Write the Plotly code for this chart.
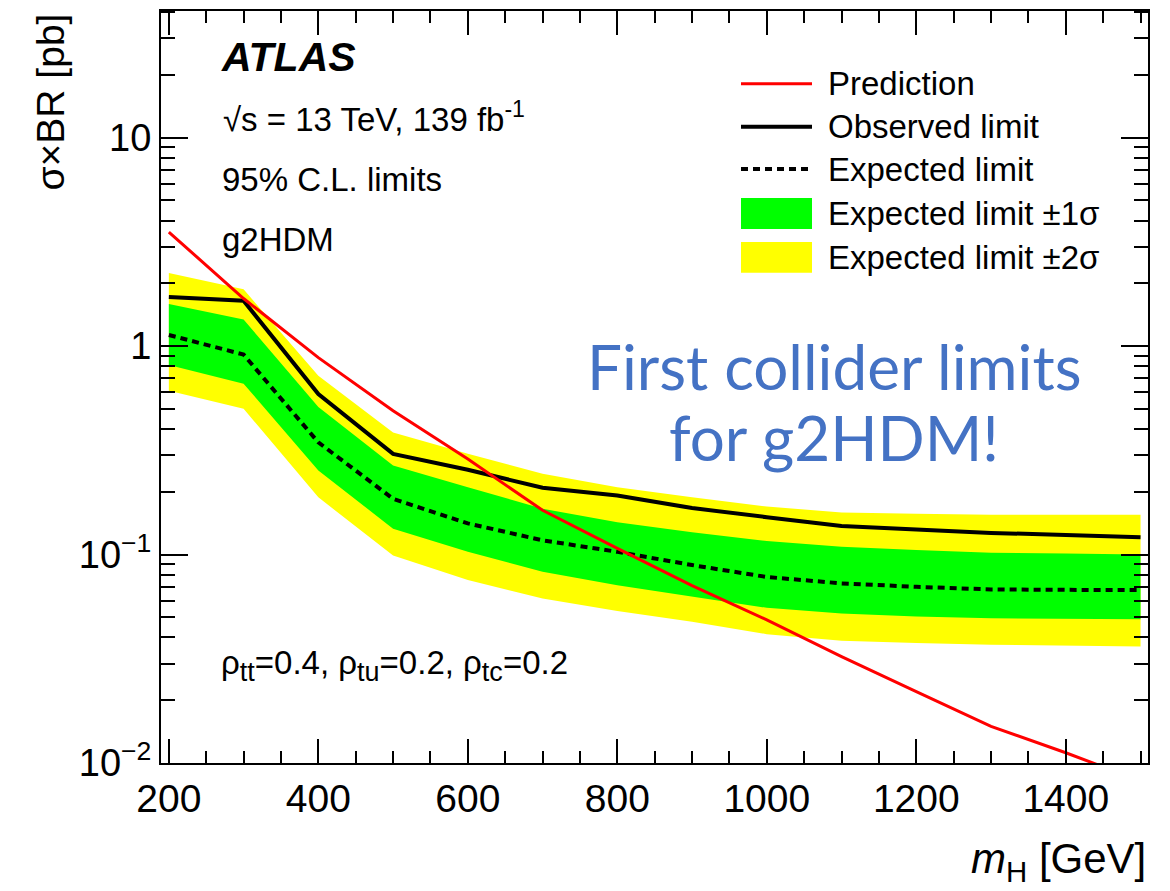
import plotly.graph_objects as go

# ---------------- data ----------------
mass = [200, 300, 400, 500, 600, 700, 800, 900, 1000, 1100, 1200, 1300, 1400, 1500]
observed = [1.72, 1.65, 0.588, 0.304, 0.255, 0.209, 0.192, 0.167, 0.151, 0.137, 0.132, 0.127, 0.124, 0.121]
expected = [1.13, 0.91, 0.345, 0.185, 0.141, 0.117, 0.103, 0.089, 0.078, 0.0727, 0.070, 0.068, 0.0677, 0.0675]
exp_p1 = [1.59, 1.34, 0.51, 0.267, 0.21, 0.166, 0.143, 0.128, 0.116, 0.109, 0.105, 0.102, 0.101, 0.100]
exp_m1 = [0.81, 0.66, 0.253, 0.133, 0.103, 0.0826, 0.0713, 0.0627, 0.0555, 0.0522, 0.0505, 0.0494, 0.049, 0.0489]
exp_p2 = [2.24, 1.87, 0.72, 0.385, 0.304, 0.244, 0.21, 0.188, 0.17, 0.159, 0.157, 0.155, 0.155, 0.155]
exp_m2 = [0.61, 0.50, 0.188, 0.099, 0.0754, 0.0616, 0.0536, 0.0476, 0.0415, 0.0386, 0.0376, 0.0369, 0.0365, 0.0362]
prediction = [3.52, 1.69, 0.88, 0.489, 0.287, 0.163, 0.107, 0.071, 0.0486, 0.0324, 0.022, 0.015, 0.0112, 0.0082]

x_ticks = [200, 400, 600, 800, 1000, 1200, 1400]
y_ticks = [0.01, 0.1, 1, 10]
y_ticktext = ["10<sup>\u22122</sup>", "10<sup>\u22121</sup>", "1", "10"]
y_minor = [m * 10 ** e for e in (-2, -1, 0, 1) for m in range(2, 10) if m * 10 ** e < 41]

legend_labels = ["Prediction", "Observed limit", "Expected limit",
                 "Expected limit \u00b11\u03c3", "Expected limit \u00b12\u03c3"]

FONT = "Liberation Sans, Arial, Helvetica, sans-serif"
RED = "#ff0000"
GREEN = "#00ff00"
YELLOW = "#ffff00"
BLUE = "#4472c4"
TS = 33  # text size inside the frame

# plot area in pixels
W, H = 1170, 891
L, R, T, B = 161, 22, 9, 128
PW, PH = W - L - R, H - T - B


def px(xp):
    return (xp - L) / PW


def py(yp):
    return (H - B - yp) / PH


fig = go.Figure()

# +-2 sigma band
fig.add_trace(go.Scatter(
    x=mass + mass[::-1], y=exp_p2 + exp_m2[::-1], fill="toself",
    fillcolor=YELLOW, line=dict(width=0), mode="lines", hoverinfo="skip",
    showlegend=False))
# +-1 sigma band
fig.add_trace(go.Scatter(
    x=mass + mass[::-1], y=exp_p1 + exp_m1[::-1], fill="toself",
    fillcolor=GREEN, line=dict(width=0), mode="lines", hoverinfo="skip",
    showlegend=False))
# expected
fig.add_trace(go.Scatter(x=mass, y=expected, mode="lines",
                         line=dict(color="black", width=4, dash="7px,5px"),
                         showlegend=False))
# observed
fig.add_trace(go.Scatter(x=mass, y=observed, mode="lines",
                         line=dict(color="black", width=4), showlegend=False))
# prediction
fig.add_trace(go.Scatter(x=mass, y=prediction, mode="lines",
                         line=dict(color=RED, width=3), showlegend=False))

# ---------------- manual legend (ROOT style) ----------------
rows = [82, 125, 167.5, 212, 256]
kx0, kx1, tx = 741, 812, 826
shapes = []
shapes.append(dict(type="line", xref="paper", yref="paper", x0=px(kx0), x1=px(kx1),
                   y0=py(rows[0]), y1=py(rows[0]), line=dict(color=RED, width=3)))
shapes.append(dict(type="line", xref="paper", yref="paper", x0=px(kx0), x1=px(kx1),
                   y0=py(rows[1]), y1=py(rows[1]), line=dict(color="black", width=4)))
shapes.append(dict(type="line", xref="paper", yref="paper", x0=px(kx0), x1=px(kx1),
                   y0=py(rows[2]), y1=py(rows[2]),
                   line=dict(color="black", width=4, dash="7px,5px")))
shapes.append(dict(type="rect", xref="paper", yref="paper", x0=px(kx0), x1=px(kx1),
                   y0=py(rows[3] - 15.5), y1=py(rows[3] + 15.5),
                   fillcolor=GREEN, line=dict(width=0)))
shapes.append(dict(type="rect", xref="paper", yref="paper", x0=px(kx0), x1=px(kx1),
                   y0=py(rows[4] - 15.5), y1=py(rows[4] + 15.5),
                   fillcolor=YELLOW, line=dict(width=0)))

annotations = []
for yrow, lab in zip(rows, legend_labels):
    annotations.append(dict(xref="paper", yref="paper", x=px(tx), y=py(yrow),
                            xanchor="left", yanchor="middle", text=lab, showarrow=False,
                            font=dict(family=FONT, size=TS, color="black")))

SUB = '<sub><span style="font-size:27px">{}</span></sub>'
rho_text = ("\u03c1" + SUB.format("tt") + "=0.4, \u03c1" + SUB.format("tu")
            + "=0.2, \u03c1" + SUB.format("tc") + "=0.2")

# ---------------- text labels ----------------
annotations += [
    dict(xref="paper", yref="paper", x=px(219), y=py(55), xanchor="left", yanchor="middle",
         text="<b><i>ATLAS</i></b>", showarrow=False,
         font=dict(family=FONT, size=41, color="black")),
    dict(xref="paper", yref="paper", x=px(221), y=py(115), xanchor="left", yanchor="middle",
         text="\u221as = 13 TeV, 139 fb<sup>-1</sup>", showarrow=False,
         font=dict(family=FONT, size=TS, color="black")),
    dict(xref="paper", yref="paper", x=px(220), y=py(178), xanchor="left", yanchor="middle",
         text="95% C.L. limits", showarrow=False,
         font=dict(family=FONT, size=TS, color="black")),
    dict(xref="paper", yref="paper", x=px(220), y=py(238), xanchor="left", yanchor="middle",
         text="g2HDM", showarrow=False,
         font=dict(family=FONT, size=TS, color="black")),
    dict(xref="paper", yref="paper", x=px(219), y=py(665), xanchor="left", yanchor="middle",
         text=rho_text, showarrow=False,
         font=dict(family=FONT, size=TS, color="black")),
    dict(xref="paper", yref="paper", x=px(834), y=py(365), xanchor="center", yanchor="middle",
         text="First collider limits", showarrow=False,
         font=dict(family="Lato, Noto Sans, sans-serif", size=62, color=BLUE)),
    dict(xref="paper", yref="paper", x=px(834), y=py(436), xanchor="center", yanchor="middle",
         text="for g2HDM!", showarrow=False,
         font=dict(family="Lato, Noto Sans, sans-serif", size=62, color=BLUE)),
    # axis titles
    dict(xref="paper", yref="paper", x=1.0, y=py(862), xanchor="right", yanchor="middle",
         text="<i>m</i><sub>H</sub> [GeV]", showarrow=False,
         font=dict(family=FONT, size=42, color="black")),
    dict(xref="paper", yref="paper", x=px(50), y=py(10), xanchor="center", yanchor="top",
         text="\u03c3\u00d7BR [pb]", textangle=-90, showarrow=False,
         font=dict(family=FONT, size=39, color="black")),
]

fig.update_layout(
    width=W, height=H,
    margin=dict(l=L, r=R, t=T, b=B),
    plot_bgcolor="white", paper_bgcolor="white",
    showlegend=False,
    shapes=shapes, annotations=annotations,
    font=dict(family=FONT, color="black"),
)

fig.update_xaxes(
    range=[189.5, 1510], tickmode="array", tickvals=x_ticks,
    ticks="inside", ticklen=24, tickwidth=2, tickcolor="black",
    showline=True, linewidth=2, linecolor="black", mirror="allticks",
    showgrid=False, zeroline=False,
    tickfont=dict(family=FONT, size=39, color="black"),
    minor=dict(ticks="inside", ticklen=12, tickwidth=2, tickcolor="black",
               dtick=50, tick0=0, showgrid=False),
)
fig.update_yaxes(
    type="log", range=[-2, 1.607], tickmode="array", tickvals=y_ticks,
    ticktext=y_ticktext,
    ticks="inside", ticklen=27, tickwidth=2, tickcolor="black",
    showline=True, linewidth=2, linecolor="black", mirror="allticks",
    showgrid=False, zeroline=False,
    tickfont=dict(family=FONT, size=38, color="black"),
    minor=dict(ticks="inside", ticklen=14, tickwidth=2, tickcolor="black",
               tickmode="array", tickvals=y_minor, showgrid=False),
)

fig.write_html("out.html")
